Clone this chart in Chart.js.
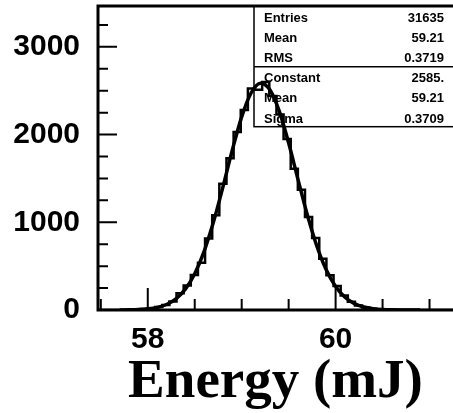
<!DOCTYPE html>
<html>
<head>
<meta charset="utf-8">
<script src="https://cdn.jsdelivr.net/npm/chart.js@4.4.0/dist/chart.umd.min.js"></script>
<style>
  html, body { margin: 0; padding: 0; background: #fff; overflow: hidden; }
  #wrap { width: 453px; height: 413px; position: relative; }
</style>
</head>
<body>
<div id="wrap"><canvas id="energyChart"></canvas></div>
<script>
// histogram: 50 bins of 0.076 mJ starting at 57.47
const binStart = 57.47;
const binWidth = 0.076;
const counts = [
  0, 0, 0, 1, 2,
  5, 10, 18, 35, 58,
  98, 190, 280, 400, 540,
  815, 1080, 1440, 1730, 2030,
  2280, 2525, 2510, 2600, 2440,
  2230, 1950, 1610, 1370, 1060,
  820, 585, 395, 275, 165,
  95, 52, 28, 15, 8,
  4, 2, 1, 0, 0,
  0, 0, 0, 0, 0
];

// gaussian fit curve
const fitX = [57.7, 57.8, 57.9, 58.0, 58.1, 58.2, 58.3, 58.4, 58.5, 58.6, 58.7, 58.8, 58.9, 59.0, 59.1,
  59.2, 59.3, 59.4, 59.5, 59.6, 59.7, 59.8, 59.9, 60.0, 60.1, 60.2, 60.3, 60.4, 60.5, 60.6, 60.7, 60.8, 60.9];
const fitY = [1, 2, 5, 13, 29, 63, 127, 238, 414, 669, 1005, 1403, 1823, 2202, 2474,
  2585, 2510, 2267, 1904, 1487, 1080, 730, 458, 268, 145, 73, 34, 15, 6, 2, 1, 0, 0];

// axes
const xTickLabels = [58, 60];
const xTickMarks = [57.5, 58, 58.5, 59, 59.5, 60, 60.5, 61];
const yTickLabels = [0, 1000, 2000, 3000];
const yTickMarks = [250, 500, 750, 1000, 1250, 1500, 1750, 2000, 2250, 2500, 2750, 3000, 3250];

// stats box
const statLabels = ['Entries', 'Mean', 'RMS', 'Constant', 'Mean', 'Sigma'];
const statValues = ['31635', '59.21', '0.3719', '2585.', '59.21', '0.3709'];

const histPoints = counts.map((c, k) => ({ x: binStart + k * binWidth, y: c }));
histPoints.push({ x: binStart + counts.length * binWidth, y: 0 });
const fitPoints = fitX.map((x, i) => ({ x: x, y: fitY[i] }));

const rootFrame = {
  id: 'rootFrame',
  beforeDatasetsDraw(chart) {
    const ctx = chart.ctx, a = chart.chartArea;
    const boxL = 254, boxT = a.top, boxB = 126.7, sep = 66.7;
    ctx.save();
    ctx.fillStyle = '#fff';
    ctx.fillRect(boxL, boxT, chart.width - boxL + 5, boxB - boxT);
    ctx.strokeStyle = '#000';
    ctx.lineWidth = 1.5;
    ctx.strokeRect(boxL, boxT, chart.width - boxL + 5, boxB - boxT);
    ctx.beginPath();
    ctx.moveTo(boxL, sep); ctx.lineTo(chart.width, sep);
    ctx.stroke();
    ctx.fillStyle = '#000';
    ctx.font = 'bold 13px "Liberation Sans", Arial, sans-serif';
    statLabels.forEach((lab, i) => {
      const y = 21.5 + i * 20.2;
      ctx.textAlign = 'left';
      ctx.fillText(lab, 264, y);
      ctx.textAlign = 'right';
      ctx.fillText(statValues[i], 444, y);
    });
    ctx.restore();
  },
  afterDraw(chart) {
    const ctx = chart.ctx, a = chart.chartArea;
    const xs = chart.scales.x, ys = chart.scales.y;
    ctx.save();
    ctx.strokeStyle = '#000';
    ctx.lineWidth = 2;
    ctx.beginPath();
    xTickMarks.forEach(v => {
      const px = xs.getPixelForValue(v);
      const len = xTickLabels.includes(v) ? 22 : 11;
      ctx.moveTo(px, a.bottom); ctx.lineTo(px, a.bottom - len);
    });
    yTickMarks.forEach(v => {
      const py = ys.getPixelForValue(v);
      const len = yTickLabels.includes(v) ? 19 : 10;
      ctx.moveTo(a.left, py); ctx.lineTo(a.left + len, py);
    });
    ctx.stroke();
    ctx.lineWidth = 3;
    ctx.beginPath();
    ctx.moveTo(a.right, a.bottom);
    ctx.lineTo(a.left, a.bottom);
    ctx.lineTo(a.left, a.top);
    ctx.lineTo(a.right, a.top);
    ctx.stroke();
    ctx.restore();
  }
};

const ctx = document.getElementById('energyChart').getContext('2d');
const energyChart = new Chart(ctx, {
  type: 'line',
  data: {
    datasets: [{
      label: 'hist',
      data: histPoints,
      stepped: 'before',
      borderColor: '#000',
      borderWidth: 2.5,
      pointRadius: 0,
      fill: false
    }, {
      label: 'fit',
      data: fitPoints,
      cubicInterpolationMode: 'monotone',
      borderColor: '#000',
      borderWidth: 3.5,
      pointRadius: 0,
      fill: false
    }]
  },
  options: {
    responsive: true,
    maintainAspectRatio: false,
    animation: false,
    layout: { padding: { top: 6, left: 0, right: 0, bottom: 0 } },
    plugins: { legend: { display: false }, tooltip: { enabled: false } },
    scales: {
      x: {
        type: 'linear',
        min: 57.47,
        max: 61.25,
        afterFit: s => { s.height = 103; s.paddingLeft = 0; s.paddingRight = 0; },
        afterBuildTicks: s => { s.ticks = xTickLabels.map(v => ({ value: v })); },
        grid: { display: false, drawTicks: false },
        border: { display: false },
        ticks: {
          color: '#000',
          padding: 12,
          maxRotation: 0,
          autoSkip: false,
          font: { family: '"Liberation Sans", Arial, sans-serif', weight: 'bold', size: 30 },
          callback: v => String(v)
        },
        title: {
          display: true,
          text: 'Energy (mJ)',
          color: '#000',
          padding: { top: 0, bottom: 0 },
          font: { family: '"Liberation Serif", "Times New Roman", serif', weight: 'bold', size: 55, lineHeight: 1.1 }
        }
      },
      y: {
        min: 0,
        max: 3466,
        afterFit: s => { s.width = 98; s.paddingTop = 0; s.paddingBottom = 0; },
        afterBuildTicks: s => { s.ticks = yTickLabels.map(v => ({ value: v })); },
        grid: { display: false, drawTicks: false },
        border: { display: false },
        ticks: {
          color: '#000',
          padding: 18,
          font: { family: '"Liberation Sans", Arial, sans-serif', weight: 'bold', size: 30 },
          callback: v => String(v)
        }
      }
    }
  },
  plugins: [rootFrame]
});
</script>
</body>
</html>
